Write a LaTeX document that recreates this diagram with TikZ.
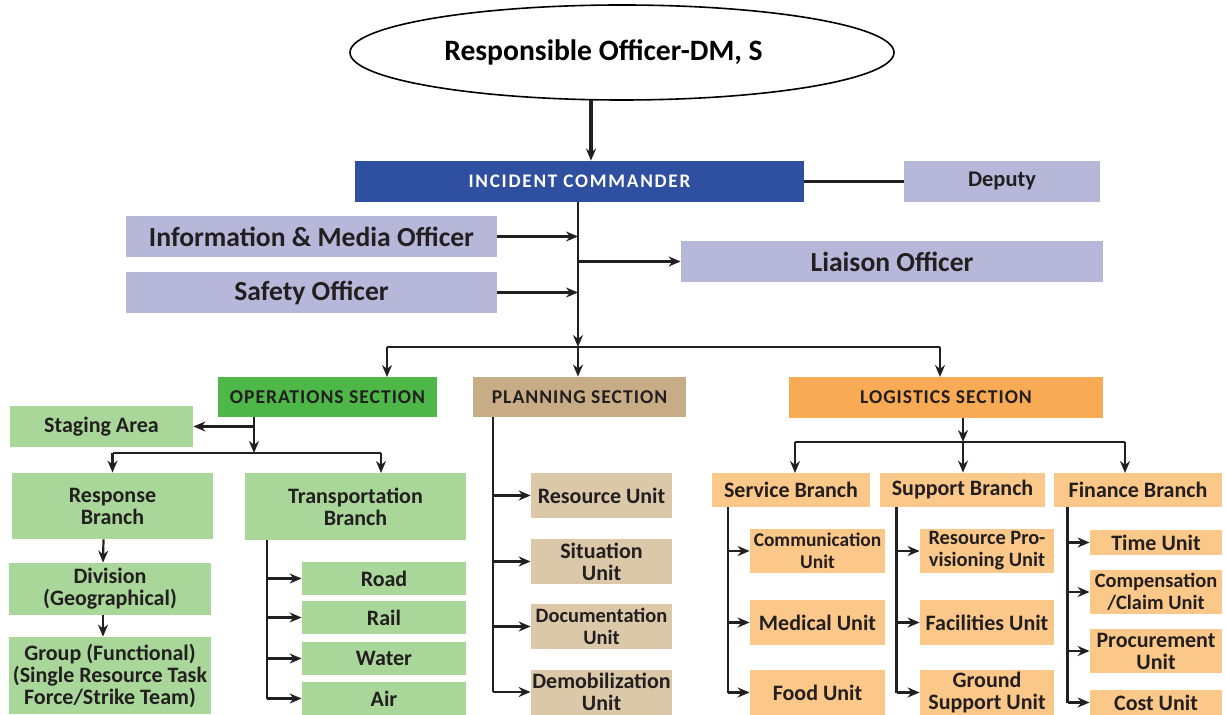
\documentclass[tikz,border=0pt]{standalone}
\usepackage{fontspec}
\setmainfont{Carlito}
\usetikzlibrary{arrows.meta}
\usetikzlibrary{shapes.geometric}
\definecolor{icblue}{RGB}{47,79,161}
\definecolor{lav}{RGB}{183,183,218}
\definecolor{opsgreen}{RGB}{77,184,72}
\definecolor{ltgreen}{RGB}{168,215,153}
\definecolor{plantan}{RGB}{200,172,134}
\definecolor{lttan}{RGB}{219,200,168}
\definecolor{logorange}{RGB}{248,170,85}
\definecolor{ltorange}{RGB}{251,200,137}
\definecolor{txt}{RGB}{35,31,32}

\begin{document}
\begin{tikzpicture}[x=0.5pt, y=-0.5pt,
    box/.style={inner sep=0pt, align=center, text=txt, font=\bfseries\fontsize{11}{11}\selectfont},
    sz/.style 2 args={minimum width=#1*0.5pt, minimum height=#2*0.5pt},
    hdr/.style={box, font=\bfseries\fontsize{9.8}{10}\selectfont\addfontfeature{LetterSpace=5}},
    off/.style={box, fill=lav, font=\bfseries\fontsize{13.8}{15}\selectfont},
    grn/.style={box, fill=ltgreen},
    tan/.style={box, fill=lttan},
    org/.style={box, fill=ltorange},
    small/.style={font=\bfseries\fontsize{10.2}{11}\selectfont},
    tiny/.style={font=\bfseries\fontsize{9.7}{11}\selectfont},
    link/.style={line width=1.1pt, draw=txt, -{Stealth[length=6pt,width=5pt]}},
    plain/.style={line width=1.1pt, draw=txt}]
    \useasboundingbox (0,0) rectangle (1225,715);

    % top of the chart
    \node[ellipse, draw=black, line width=0.8pt, fill=white, minimum width=272pt, minimum height=47.5pt, inner sep=0pt,
          font=\bfseries\fontsize{14.8}{16}\selectfont] (ro) at (622,52.5) {Responsible Officer-DM, S\kern18.5pt};
    \node[hdr, fill=icblue, text=white, sz={449}{41}, font=\bfseries\fontsize{9.6}{10}\selectfont\addfontfeature{LetterSpace=9}] (ic) at (579.5,181.5) {INCIDENT COMMANDER};
    \node[off, sz={196}{41}, font=\bfseries\fontsize{11.2}{12}\selectfont] (deputy) at (1002,181.5) {Deputy};
    \node[off, sz={371}{41}] (info) at (311.5,236.5) {Information \& Media Officer};
    \node[off, sz={371}{41}] (safety) at (311.5,292.5) {Safety Officer};
    \node[off, sz={422}{41}] (liaison) at (892,261.5) {Liaison Officer};

    % sections
    \node[hdr, fill=opsgreen, sz={219}{40}] (ops) at (327.5,397) {OPERATIONS SECTION};
    \node[hdr, fill=plantan, sz={213}{40}] (plan) at (579.5,397) {PLANNING SECTION};
    \node[hdr, fill=logorange, sz={314}{41}] (log) at (946,397.5) {LOGISTICS SECTION};

    % operations
    \node[grn, sz={183}{41}] (staging) at (101.5,426.5) {Staging Area};
    \node[grn, sz={201}{66}] (resp) at (112.5,506) {Response\\Branch};
    \node[grn, sz={221}{67}] (trans) at (355.5,506.5) {Transportation\\Branch};
    \node[grn, sz={202}{52}] (div) at (110,589) {Division\\(Geographical)};
    \node[grn, sz={202}{77}] (grp) at (110,675.5) {Group (Functional)\\(Single Resource Task\\Force/Strike Team)};
    \node[grn, sz={164}{33}] (road) at (384,578.5) {Road};
    \node[grn, sz={164}{33}] (rail) at (384,617.5) {Rail};
    \node[grn, sz={164}{33}] (water) at (384,658.5) {Water};
    \node[grn, sz={164}{33}] (air) at (384,698.5) {Air};

    % planning
    \node[tan, sz={141}{45}] (resu) at (601.5,495.5) {Resource Unit};
    \node[tan, sz={141}{45}] (situ) at (601.5,561.5) {Situation\\Unit};
    \node[tan, small, sz={141}{45}] (docu) at (601.5,626.5) {Documentation\\Unit};
    \node[tan, sz={141}{45}] (demob) at (601.5,692) {Demobilization\\Unit};

    % logistics
    \node[org, sz={158}{34}] (serv) at (791,490) {Service Branch};
    \node[org, sz={165}{34}] (supp) at (962.5,490) {Support Branch};
    \node[org, sz={168}{34}] (fin) at (1138,490) {Finance Branch};
    \node[org, tiny, sz={135}{44}] (comm) at (817.5,551) {Communication\\Unit};
    \node[org, sz={135}{45}] (med) at (817.5,622.5) {Medical Unit};
    \node[org, sz={135}{45}] (food) at (817.5,692.5) {Food Unit};
    \node[org, small, sz={134}{44}] (rprov) at (987,551) {Resource Pro-\\visioning Unit};
    \node[org, sz={134}{45}] (fac) at (987,622.5) {Facilities Unit};
    \node[org, sz={134}{45}] (gsu) at (987,692.5) {Ground\\Support Unit};
    \node[org, sz={132}{25}] (time) at (1156,542.5) {Time Unit};
    \node[org, small, sz={132}{44}] (comp) at (1156,592) {Compensation\\/Claim Unit};
    \node[org, sz={132}{44}] (proc) at (1156,651) {Procurement\\Unit};
    \node[org, sz={132}{25}] (cost) at (1156,702.5) {Cost Unit};

    % connectors, top
    \coordinate (roa) at (591,100);
    \coordinate (icbar) at (578,347);
    \coordinate (opsin) at (387,377);
    \coordinate (login) at (940,377);
    \draw[link, line width=1.6pt] (roa) -- (roa |- ic.north);
    \draw[plain] (ic) -- (deputy);
    \draw[link] (ic.south -| icbar) -- (icbar);
    \draw[link] (info) -- (info -| icbar);
    \draw[link] (safety) -- (safety -| icbar);
    \draw[link] (liaison -| icbar) -- (liaison);
    \draw[plain] (icbar -| opsin) -- (icbar -| login);
    \draw[link] (icbar -| opsin) -- (opsin);
    \draw[link] (icbar) -- (icbar |- plan.north);
    \draw[link] (icbar -| login) -- (login);

    % connectors, operations
    \coordinate (opsout) at (254,417);
    \coordinate (opsbar) at (254,453);
    \coordinate (trin) at (381,473);
    \coordinate (trtop) at (267,540);
    \draw[link] (opsout) -- (opsbar);
    \draw[link] (opsout |- staging) -- (staging);
    \draw[plain] (opsbar -| resp) -- (opsbar -| trin);
    \draw[link] (opsbar -| resp) -- (resp.north);
    \draw[link] (opsbar -| trin) -- (trin);
    \draw[link] ([xshift=-4.5pt]resp.south) -- ([xshift=-3.5pt]div.north);
    \draw[link] ([xshift=-3.5pt]div.south) -- ([xshift=-3.5pt]grp.north);
    \draw[plain] (trtop) -- (trtop |- air);
    \foreach \n in {road,rail,water,air}
        \draw[link] (trtop |- \n) -- (\n);

    % connectors, planning
    \coordinate (pltop) at (493,417);
    \draw[plain] (pltop) -- (pltop |- demob);
    \foreach \n in {resu,situ,docu,demob}
        \draw[link] (pltop |- \n) -- (\n);

    % connectors, logistics
    \coordinate (logout) at (963,418);
    \coordinate (logbar) at (963,442);
    \coordinate (sein) at (795,473);
    \coordinate (fiin) at (1125,473);
    \coordinate (setop) at (728,507);
    \coordinate (sutop) at (896.5,507);
    \coordinate (fitop) at (1067.5,507);
    \draw[link] (logout) -- (logbar);
    \draw[plain] (logbar -| sein) -- (logbar -| fiin);
    \draw[link] (logbar -| sein) -- (sein);
    \draw[link] (logbar) -- (logbar |- supp.north);
    \draw[link] (logbar -| fiin) -- (fiin);
    \draw[plain] (setop) -- (setop |- food);
    \foreach \n in {comm,med,food}
        \draw[link] (setop |- \n) -- (\n);
    \draw[plain] (sutop) -- (sutop |- gsu);
    \foreach \n in {rprov,fac,gsu}
        \draw[link] (sutop |- \n) -- (\n);
    \draw[plain] (fitop) -- (fitop |- cost);
    \foreach \n in {time,comp,proc,cost}
        \draw[link] (fitop |- \n) -- (\n);
\end{tikzpicture}
\end{document}
